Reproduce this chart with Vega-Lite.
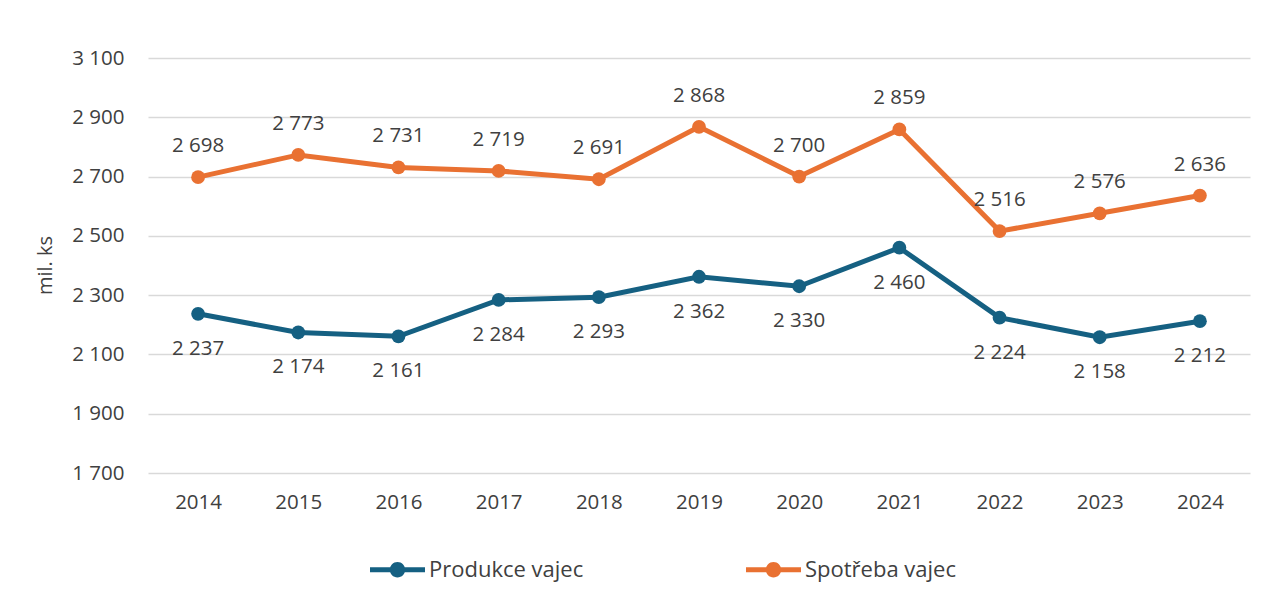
{
  "$schema": "https://vega.github.io/schema/vega-lite/v6.json",
  "width": 1102,
  "height": 415,
  "autosize": {"type": "none"},
  "padding": {"left": 148, "top": 58, "right": 38, "bottom": 130},
  "background": "white",
  "config": {
    "font": "Open Sans",
    "locale": {"number": {"decimal": ",", "thousands": " ", "grouping": [3], "currency": ["", " Kč"]}},
    "view": {"stroke": null},
    "axis": {"labelFont": "Open Sans", "labelFontSize": 20.5, "labelColor": "#404040", "titleFont": "Open Sans", "titleColor": "#404040", "titleFontWeight": "normal", "titleFontSize": 20}
  },
  "data": {
    "values": [
      {"rok": "2014", "serie": "Produkce vajec", "hodnota": 2237},
      {"rok": "2015", "serie": "Produkce vajec", "hodnota": 2174},
      {"rok": "2016", "serie": "Produkce vajec", "hodnota": 2161},
      {"rok": "2017", "serie": "Produkce vajec", "hodnota": 2284},
      {"rok": "2018", "serie": "Produkce vajec", "hodnota": 2293},
      {"rok": "2019", "serie": "Produkce vajec", "hodnota": 2362},
      {"rok": "2020", "serie": "Produkce vajec", "hodnota": 2330},
      {"rok": "2021", "serie": "Produkce vajec", "hodnota": 2460},
      {"rok": "2022", "serie": "Produkce vajec", "hodnota": 2224},
      {"rok": "2023", "serie": "Produkce vajec", "hodnota": 2158},
      {"rok": "2024", "serie": "Produkce vajec", "hodnota": 2212},
      {"rok": "2014", "serie": "Spotřeba vajec", "hodnota": 2698},
      {"rok": "2015", "serie": "Spotřeba vajec", "hodnota": 2773},
      {"rok": "2016", "serie": "Spotřeba vajec", "hodnota": 2731},
      {"rok": "2017", "serie": "Spotřeba vajec", "hodnota": 2719},
      {"rok": "2018", "serie": "Spotřeba vajec", "hodnota": 2691},
      {"rok": "2019", "serie": "Spotřeba vajec", "hodnota": 2868},
      {"rok": "2020", "serie": "Spotřeba vajec", "hodnota": 2700},
      {"rok": "2021", "serie": "Spotřeba vajec", "hodnota": 2859},
      {"rok": "2022", "serie": "Spotřeba vajec", "hodnota": 2516},
      {"rok": "2023", "serie": "Spotřeba vajec", "hodnota": 2576},
      {"rok": "2024", "serie": "Spotřeba vajec", "hodnota": 2636}
    ]
  },
  "encoding": {
    "x": {
      "field": "rok", "type": "ordinal",
      "scale": {"type": "point", "padding": 0.5},
      "axis": {"title": null, "labelAngle": 0, "domain": false, "ticks": false, "grid": false, "labelPadding": 19}
    },
    "y": {
      "field": "hodnota", "type": "quantitative",
      "scale": {"domain": [1700, 3100], "nice": false, "zero": false},
      "axis": {
        "title": "mil. ks", "values": [1700, 1900, 2100, 2300, 2500, 2700, 2900, 3100],
        "format": ",d", "domain": false, "ticks": false, "labelPadding": 24,
        "gridColor": "#d9d9d9", "gridWidth": 1.5,
        "titleX": -103, "titleY": 207, "titleAngle": -90, "titleAlign": "center", "titleBaseline": "middle"
      }
    },
    "color": {
      "field": "serie", "type": "nominal",
      "scale": {"domain": ["Produkce vajec", "Spotřeba vajec"], "range": ["#156082", "#E97132"]},
      "legend": {
        "title": null, "orient": "none", "direction": "horizontal",
        "legendX": 222, "legendY": 484,
        "symbolType": "M-1,-0.09H-0.2V0.09H-1Z M0.2,-0.09H1V0.09H0.2Z M-0.28,0A0.28,0.28 0 1,1 0.28,0A0.28,0.28 0 1,1 -0.28,0Z",
        "symbolSize": 3025, "symbolStrokeWidth": 0,
        "labelFont": "Open Sans", "labelFontSize": 22, "labelColor": "#404040",
        "labelOffset": 4, "columnPadding": 162,
        "encode": {"symbols": {"update": {"fill": {"scale": "color", "field": "value"}, "strokeWidth": {"value": 0}}}}
      }
    }
  },
  "layer": [
    {"mark": {"type": "line", "strokeWidth": 5}},
    {"mark": {"type": "point", "filled": true, "opacity": 1, "size": 190}},
    {
      "transform": [{"filter": "datum.serie === 'Spotřeba vajec'"}],
      "mark": {"type": "text", "dy": -31, "fontSize": 20.5, "font": "Open Sans", "color": "#404040"},
      "encoding": {"text": {"field": "hodnota", "type": "quantitative", "format": ",d"}, "color": {"value": "#404040"}}
    },
    {
      "transform": [{"filter": "datum.serie === 'Produkce vajec'"}],
      "mark": {"type": "text", "dy": 35, "fontSize": 20.5, "font": "Open Sans", "color": "#404040"},
      "encoding": {"text": {"field": "hodnota", "type": "quantitative", "format": ",d"}, "color": {"value": "#404040"}}
    }
  ]
}
